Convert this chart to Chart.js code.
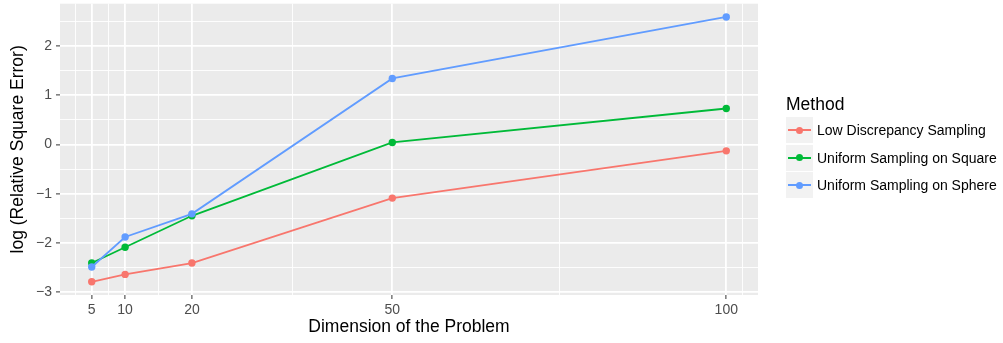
<!DOCTYPE html>
<html>
<head>
<meta charset="utf-8">
<script src="https://cdn.jsdelivr.net/npm/chart.js@4/dist/chart.umd.min.js"></script>
<style>
  html, body { margin: 0; padding: 0; background: #fff; }
  #wrap { position: relative; width: 1003px; height: 343px; font-family: "Liberation Sans", Arial, sans-serif; }
  #wrap canvas { position: absolute; left: 0; top: 0; }
  .legend { position: absolute; left: 786px; top: 92px; color: #000; }
  .legend .title { font-size: 17.5px; height: 25px; line-height: 25px; }
  .legend .row { position: relative; height: 27.5px; }
  .legend .key { position: absolute; left: 0; top: 0; width: 27px; height: 26px; background: #F2F2F2; }
  .legend .key .ln { position: absolute; left: 2px; right: 2px; top: 12px; height: 2px; }
  .legend .key .dt { position: absolute; left: 10px; top: 9.5px; width: 7px; height: 7px; border-radius: 50%; }
  .legend .lbl { position: absolute; left: 31px; top: 0; height: 26px; line-height: 26px; font-size: 14px; color: #000; white-space: nowrap; }
</style>
</head>
<body>
<div id="wrap">
  <canvas id="chart" width="1003" height="343"></canvas>
  <div class="legend" id="legend"><div class="title">Method</div></div>
</div>
<script>
// データ
const dims = [5, 10, 20, 50, 100];
const lowDiscrepancy = [-2.79, -2.64, -2.41, -1.09, -0.13];
const uniformSquare = [-2.41, -2.09, -1.45, 0.04, 0.73];
const uniformSphere = [-2.49, -1.88, -1.41, 1.34, 2.59];

const seriesNames = ['Low Discrepancy Sampling', 'Uniform Sampling on Square', 'Uniform Sampling on Sphere'];
const seriesColors = ['#F8766D', '#00BA38', '#619CFF'];

// 目盛り（主・補助）
const xMajorTicks = [5, 10, 20, 50, 100];
const xMinorTicks = [2.5, 7.5, 15, 35, 75, 102.5];
const yMajorTicks = [-3, -2, -1, 0, 1, 2];
const yMinorTicks = [-2.5, -1.5, -0.5, 0.5, 1.5, 2.5];

const fontFamily = '"Liberation Sans", Arial, sans-serif';
const MINUS = '\u2212';

function toPoints(values) {
    return dims.map((d, i) => ({ x: d, y: values[i] }));
}

function allTicks(major, minor) {
    return major.concat(minor).sort((a, b) => a - b);
}

const seriesValues = [lowDiscrepancy, uniformSquare, uniformSphere];
const datasets = seriesValues.map((vals, i) => ({
    label: seriesNames[i],
    data: toPoints(vals),
    borderColor: seriesColors[i],
    backgroundColor: seriesColors[i],
    borderWidth: 1.8,
    pointRadius: 3.7,
    pointBorderWidth: 0,
    pointHoverRadius: 3.7,
    tension: 0,
    order: seriesValues.length - i
}));

// パネル背景（ggplot風の灰色）
const panelBg = {
    id: 'panelBg',
    beforeDraw(chart) {
        const { ctx, chartArea: a } = chart;
        ctx.save();
        ctx.fillStyle = '#EBEBEB';
        ctx.fillRect(a.left, a.top, a.right - a.left, a.bottom - a.top);
        ctx.restore();
    }
};

function gridOptions(major) {
    return {
        color: '#FFFFFF',
        lineWidth: c => (major.includes(c.tick.value) ? 1.8 : 0.9),
        drawTicks: true,
        tickLength: 4,
        tickColor: c => (major.includes(c.tick.value) ? '#333333' : 'rgba(0,0,0,0)'),
        tickWidth: 1
    };
}

function fmt(v) {
    return v < 0 ? MINUS + Math.abs(v) : String(v);
}

new Chart(document.getElementById('chart').getContext('2d'), {
    type: 'line',
    data: { datasets },
    plugins: [panelBg],
    options: {
        responsive: false,
        animation: false,
        layout: { padding: { top: 3, right: 245, left: 0, bottom: 0 } },
        plugins: { legend: { display: false }, tooltip: { enabled: false } },
        scales: {
            x: {
                type: 'linear',
                min: 0.25,
                max: 104.75,
                border: { display: false },
                grid: gridOptions(xMajorTicks),
                afterBuildTicks: s => { s.ticks = allTicks(xMajorTicks, xMinorTicks).map(v => ({ value: v })); },
                afterFit: s => { s.height = 48; s.paddingLeft = 0; s.paddingRight = 0; },
                ticks: {
                    autoSkip: false,
                    maxRotation: 0,
                    padding: 3,
                    color: '#4D4D4D',
                    font: { family: fontFamily, size: 14 },
                    callback: v => (xMajorTicks.includes(v) ? fmt(v) : '')
                },
                title: {
                    display: true,
                    text: 'Dimension of the Problem',
                    color: '#000',
                    font: { family: fontFamily, size: 17.5 },
                    padding: { top: 0, bottom: 5 }
                }
            },
            y: {
                type: 'linear',
                min: -3.059,
                max: 2.859,
                border: { display: false },
                grid: gridOptions(yMajorTicks),
                afterBuildTicks: s => { s.ticks = allTicks(yMajorTicks, yMinorTicks).map(v => ({ value: v })); },
                afterFit: s => { s.width = 60; s.paddingTop = 0; s.paddingBottom = 0; },
                ticks: {
                    autoSkip: false,
                    padding: 4,
                    color: '#4D4D4D',
                    font: { family: fontFamily, size: 14 },
                    callback: v => (yMajorTicks.includes(v) ? fmt(v) : '')
                },
                title: {
                    display: true,
                    text: 'log (Relative Square Error)',
                    color: '#000',
                    font: { family: fontFamily, size: 17.5 },
                    padding: { top: 8, bottom: 0 }
                }
            }
        }
    }
});

// 凡例（HTMLで描画）
const legendEl = document.getElementById('legend');
seriesNames.forEach((name, i) => {
    const row = document.createElement('div');
    row.className = 'row';
    row.innerHTML = `<div class="key"><div class="ln" style="background:${seriesColors[i]}"></div>` +
        `<div class="dt" style="background:${seriesColors[i]}"></div></div>` +
        `<div class="lbl">${name}</div>`;
    legendEl.appendChild(row);
});
</script>
</body>
</html>
